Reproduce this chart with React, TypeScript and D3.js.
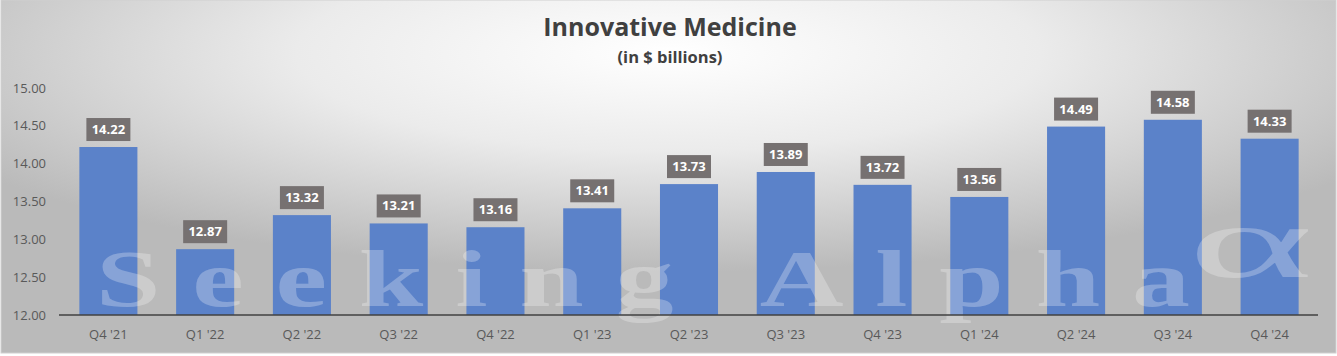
import React from "react";
import * as d3 from "d3";

const categories = ["Q4 '21", "Q1 '22", "Q2 '22", "Q3 '22", "Q4 '22", "Q1 '23", "Q2 '23", "Q3 '23", "Q4 '23", "Q1 '24", "Q2 '24", "Q3 '24", "Q4 '24"];
const values = [14.22, 12.87, 13.32, 13.21, 13.16, 13.41, 13.73, 13.89, 13.72, 13.56, 14.49, 14.58, 14.33];
const yTicks = [12, 12.5, 13, 13.5, 14, 14.5, 15];
const title = "Innovative Medicine";
const subtitle = "(in $ billions)";
const watermark = "Seeking Alpha";
const watermarkSymbol = "α";

const W = 1337;
const H = 356;
const FONT = "'Open Sans', 'Noto Sans', sans-serif";
const SERIF = "'Liberation Serif', 'DejaVu Serif', serif";

export default function App() {
  const x = d3.scaleBand<string>().domain(categories).range([60, 1318]).paddingInner(0.4).paddingOuter(0.2);
  const y = d3.scaleLinear().domain([12, 15]).range([315, 88]);
  const fmt = d3.format(".2f");
  const sx = 1.45;

  return (
    <svg width={W} height={H} style={{ position: "absolute", left: 0, top: 0 }} xmlns="http://www.w3.org/2000/svg">
      <defs>
        <radialGradient id="bg" cx="0.5" cy="0.15" r="0.62" fx="0.5" fy="0.15">
          <stop offset="0" stopColor="#ffffff" />
          <stop offset="0.45" stopColor="#ebebeb" />
          <stop offset="1" stopColor="#bababa" />
        </radialGradient>
      </defs>
      <rect x={0} y={0} width={W} height={H} fill="#ffffff" />
      <rect x={1} y={0} width={W - 2} height={353} fill="url(#bg)" stroke="#d0d0d0" strokeWidth={1} />

      <text x={670} y={36} textAnchor="middle" fontFamily={FONT} fontWeight={700} fontSize={25} fill="#404040">{title}</text>
      <text x={670} y={63} textAnchor="middle" fontFamily={FONT} fontWeight={700} fontSize={16.5} fill="#404040">{subtitle}</text>

      {yTicks.map((t) => (
        <text key={t} x={46} y={y(t)} dy="0.35em" textAnchor="end" fontFamily={FONT} fontSize={13} fill="#595959">{fmt(t)}</text>
      ))}

      {categories.map((c, i) => (
        <rect key={c} x={x(c)} y={y(values[i])} width={x.bandwidth()} height={y(12) - y(values[i])} fill="#5b82c9" />
      ))}

      <g transform={`translate(96,306) scale(${sx},1)`}>
        <text x={0} y={0} fontFamily={SERIF} fontWeight={700} fontSize={80} fill="#ffffff" fillOpacity={0.27} textLength={1094 / sx} lengthAdjust="spacing">{watermark}</text>
      </g>
      <g transform="translate(1188,277) scale(2.3,1)">
        <text x={0} y={0} fontFamily={SERIF} fontWeight={400} fontSize={104} fill="#ffffff" fillOpacity={0.27}>{watermarkSymbol}</text>
      </g>

      <line x1={59} x2={1318} y1={y(12)} y2={y(12)} stroke="#404040" strokeWidth={1.5} />

      {categories.map((c) => (
        <text key={c} x={(x(c) as number) + x.bandwidth() / 2} y={334} dy="0.35em" textAnchor="middle" fontFamily={FONT} fontSize={13} fill="#595959">{c}</text>
      ))}

      {categories.map((c, i) => {
        const cx = (x(c) as number) + x.bandwidth() / 2;
        const top = y(values[i]);
        return (
          <g key={c}>
            <rect x={cx - 22} y={top - 29} width={44} height={23} fill="#767171" />
            <text x={cx} y={top - 17.5} dy="0.35em" textAnchor="middle" fontFamily={FONT} fontWeight={700} fontSize={13} fill="#ffffff">{fmt(values[i])}</text>
          </g>
        );
      })}
    </svg>
  );
}
